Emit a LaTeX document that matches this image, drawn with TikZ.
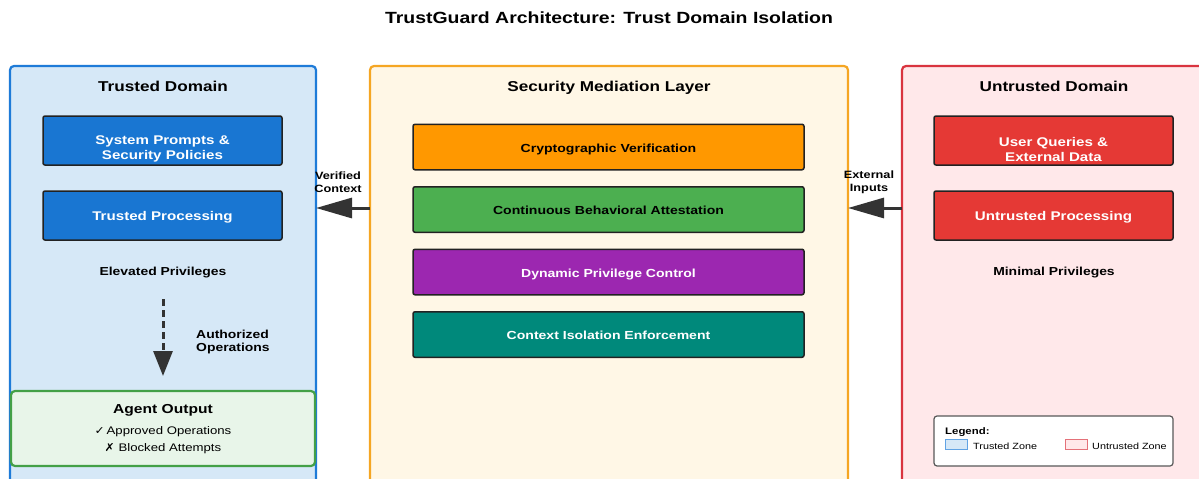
\documentclass[tikz,border=0pt]{standalone}
\usepackage{fontspec}
\setmainfont{Liberation Sans}[FakeStretch=1.2]
\newfontfamily\symfont{DejaVu Sans}[FakeStretch=1.1]
\usetikzlibrary{arrows.meta}
\definecolor{tzfill}{HTML}{D6E8F7}
\definecolor{tzline}{HTML}{1E7BD8}
\definecolor{mzfill}{HTML}{FFF7E6}
\definecolor{mzline}{HTML}{F5A623}
\definecolor{uzfill}{HTML}{FFE8EA}
\definecolor{uzline}{HTML}{D9343F}
\definecolor{bluebox}{HTML}{1976D2}
\definecolor{redbox}{HTML}{E53935}
\definecolor{orangebox}{HTML}{FF9800}
\definecolor{greenbox}{HTML}{4CAF50}
\definecolor{purplebox}{HTML}{9C27B0}
\definecolor{tealbox}{HTML}{00897B}
\definecolor{agfill}{HTML}{E8F5E9}
\definecolor{agline}{HTML}{43A047}
\definecolor{arrowc}{HTML}{333333}
\definecolor{boxline}{HTML}{222222}
\begin{document}
\begin{tikzpicture}[x=1pt,y=-1pt,
  zone/.style={draw, line width=2.2pt, rounded corners=4pt},
  caps/.style={text height=1.05em, text depth=0pt},
  comp/.style={draw=boxline, line width=1.5pt, rounded corners=2pt, minimum width=239pt, minimum height=49pt, inner sep=0pt, align=center, font=\fontsize{12.6}{15}\selectfont\bfseries, text=white},
  mcomp/.style={draw=boxline, line width=1.5pt, rounded corners=2pt, minimum width=391pt, minimum height=45.5pt, inner sep=0pt, align=center, caps, font=\fontsize{11.7}{13}\selectfont\bfseries},
  zonetitle/.style={font=\fontsize{14.3}{16}\selectfont\bfseries, inner sep=0pt, caps},
  lbl/.style={font=\fontsize{11.6}{13.5}\selectfont\bfseries, inner sep=0pt, align=center},
  bigarrow/.style={-{Triangle[length=36pt,width=20pt]}, line width=3pt, draw=arrowc},
]
\useasboundingbox (0,0) rectangle (1199,479);
\clip (0,0) rectangle (1199,479);
\node[font=\fontsize{16.2}{17}\selectfont\bfseries, inner sep=0pt, caps] (title) at (609,18) {TrustGuard Architecture: Trust Domain Isolation};

% zones
\draw[zone, draw=tzline, fill=tzfill] (10,66) rectangle (316,500);
\draw[zone, draw=mzline, fill=mzfill] (370,66) rectangle (848,500);
\draw[zone, draw=uzline, fill=uzfill] (902,66) rectangle (1210,500);
\coordinate (tzR) at (316,208);
\coordinate (mzL) at (370,208);
\coordinate (mzR) at (848,208);
\coordinate (uzL) at (902,208);

\node[zonetitle] (tzt) at (163,86) {Trusted Domain};
\node[zonetitle] (mzt) at (609,86) {Security Mediation Layer};
\node[zonetitle] (uzt) at (1054,86) {Untrusted Domain};

% trusted
\node[comp, fill=bluebox] (sp) at (162.5,140.5) {};
\node[comp, draw=none, fill=none, minimum height=0pt] (spt) at (162.5,149) {System Prompts \&\\Security Policies};
\node[comp, fill=bluebox, caps] (tp) at (162.5,215.5) {Trusted Processing};
\node[lbl, caps] (ep) at (163,270) {Elevated Privileges};
\coordinate (ds) at (163,299);
\coordinate (de) at (163,376);
\draw[-{Triangle[length=25pt,width=19pt]}, line width=3pt, draw=arrowc, dash pattern=on 7pt off 4pt] (ds) -- (de);
\node[lbl, align=left, anchor=west] (ao) at (196,342) {Authorized\\Operations};
\node[draw=agline, fill=agfill, line width=2.2pt, rounded corners=4pt, minimum width=304pt, minimum height=75pt, inner sep=0pt] (ag) at (163,428.5) {};
\node[font=\fontsize{13}{15}\selectfont\bfseries, inner sep=0pt, caps] (agt) at (163,408) {Agent Output};
\node[font=\fontsize{11}{13}\selectfont, inner sep=0pt, caps] (ag1) at (163,429) {{\symfont\char"2713}\,Approved Operations};
\node[font=\fontsize{11}{13}\selectfont, inner sep=0pt, caps] (ag2) at (163,446) {{\symfont\char"2717} Blocked Attempts};

% middle
\node[mcomp, fill=orangebox] (cv) at (608.5,147) {Cryptographic Verification};
\node[mcomp, fill=greenbox] (cb) at (608.5,209.5) {Continuous Behavioral Attestation};
\node[mcomp, fill=purplebox, text=white] (dp) at (608.5,272) {Dynamic Privilege Control};
\node[mcomp, fill=tealbox, text=white] (ci) at (608.5,334.5) {Context Isolation Enforcement};

% untrusted
\node[comp, fill=redbox] (uq) at (1053.5,140.5) {};
\node[comp, draw=none, fill=none, minimum height=0pt] (uqt) at (1053.5,149) {User Queries \&\\External Data};
\node[comp, fill=redbox, caps] (up) at (1053.5,215.5) {Untrusted Processing};
\node[lbl, caps] (mp) at (1054,270) {Minimal Privileges};

% arrows
\draw[bigarrow] (mzL) -- (tzR);
\draw[bigarrow] (uzL) -- (mzR);
\node[lbl, font=\fontsize{10.6}{13}\selectfont\bfseries] (vc) at (338,182) {Verified\\Context};
\node[lbl, font=\fontsize{10.6}{13}\selectfont\bfseries] (ei) at (869,182) {External\\Inputs};

% legend
\node[draw=black!65, fill=white, line width=1.2pt, rounded corners=3pt, minimum width=239pt, minimum height=50pt, inner sep=0pt] (leg) at (1053.5,441) {};
\node[font=\fontsize{9.5}{11}\selectfont\bfseries, anchor=west, inner sep=0pt, caps] (legt) at (945,429) {Legend:};
\node[draw=tzline!70, fill=tzfill, line width=0.8pt, minimum width=22pt, minimum height=10pt, inner sep=0pt] (sw1) at (956,444) {};
\node[font=\fontsize{9}{11}\selectfont, anchor=west, inner sep=0pt, caps] (l1) at (973,444) {Trusted Zone};
\node[draw=uzline!70, fill=uzfill, line width=0.8pt, minimum width=22pt, minimum height=10pt, inner sep=0pt] (sw2) at (1076,444) {};
\node[font=\fontsize{9}{11}\selectfont, anchor=west, inner sep=0pt, caps] (l2) at (1092,444) {Untrusted Zone};
\end{tikzpicture}
\end{document}
